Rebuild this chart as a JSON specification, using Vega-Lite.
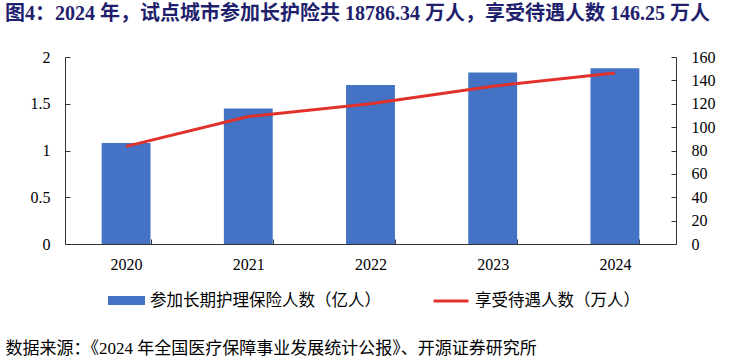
{
  "$schema": "https://vega.github.io/schema/vega-lite/v6.json",
  "width": 611,
  "height": 187,
  "autosize": "none",
  "padding": {"left": 65, "top": 57, "right": 70, "bottom": 117},
  "background": "white",
  "title": {
    "text": "图4：2024 年，试点城市参加长护险共 18786.34 万人，享受待遇人数 146.25 万人",
    "anchor": "start",
    "frame": "group",
    "dx": -60,
    "offset": 25,
    "font": "Liberation Serif, Noto Sans CJK SC",
    "fontSize": 20,
    "fontWeight": "bold",
    "color": "#1F1F6E"
  },
  "config": {
    "view": {"stroke": null},
    "axis": {
      "grid": false,
      "domainColor": "#333333",
      "tickColor": "#333333",
      "labelFont": "Liberation Serif",
      "labelFontSize": 16,
      "labelColor": "#000000",
      "tickSize": -5,
      "labelPadding": 20
    },
    "legend": {
      "labelFont": "Liberation Serif, Noto Sans CJK SC",
      "labelFontSize": 16.5,
      "labelColor": "#000000",
      "labelLimit": 400,
      "padding": 0,
      "labelOffset": 5
    }
  },
  "data": {
    "values": [
      {"year": "2020", "enrolled": 1.08, "beneficiaries": 83.5},
      {"year": "2021", "enrolled": 1.45, "beneficiaries": 109},
      {"year": "2022", "enrolled": 1.7, "beneficiaries": 120},
      {"year": "2023", "enrolled": 1.835, "beneficiaries": 135},
      {"year": "2024", "enrolled": 1.879, "beneficiaries": 146.25}
    ]
  },
  "encoding": {
    "x": {
      "field": "year",
      "type": "ordinal",
      "scale": {"paddingInner": 0.6, "paddingOuter": 0.3},
      "axis": {
        "labelAngle": 0,
        "tickBand": "extent",
        "labelPadding": 17,
        "title": "数据来源：《2024 年全国医疗保障事业发展统计公报》、开源证券研究所",
        "titleX": -60,
        "titleY": 104,
        "titleAlign": "left",
        "titleBaseline": "middle",
        "titleFont": "Liberation Serif, Noto Sans CJK SC",
        "titleFontSize": 17,
        "titleFontWeight": "normal",
        "titleColor": "#000000"
      }
    }
  },
  "layer": [
    {
      "mark": {"type": "bar"},
      "encoding": {
        "y": {
          "field": "enrolled",
          "type": "quantitative",
          "scale": {"domain": [0, 2]},
          "axis": {"orient": "left", "title": null, "values": [0, 0.5, 1, 1.5, 2], "format": ".1~f"}
        },
        "fill": {
          "datum": "参加长期护理保险人数（亿人）",
          "type": "nominal",
          "scale": {"range": ["#4472C4"]},
          "legend": {
            "title": null,
            "orient": "none",
            "legendX": 43,
            "legendY": 225,
            "symbolType": "M-1,-0.243H1V0.243H-1Z",
            "symbolSize": 1369,
            "symbolStrokeWidth": 0
          }
        }
      }
    },
    {
      "mark": {"type": "line", "strokeWidth": 3},
      "encoding": {
        "y": {
          "field": "beneficiaries",
          "type": "quantitative",
          "scale": {"domain": [0, 160]},
          "axis": {"orient": "right", "title": null, "values": [0, 20, 40, 60, 80, 100, 120, 140, 160]}
        },
        "stroke": {
          "datum": "享受待遇人数（万人）",
          "type": "nominal",
          "scale": {"range": ["#E2302A"]},
          "legend": {
            "title": null,
            "orient": "none",
            "legendX": 367,
            "legendY": 225,
            "symbolType": "stroke",
            "symbolSize": 1225,
            "symbolStrokeWidth": 3
          }
        }
      }
    }
  ],
  "resolve": {"scale": {"y": "independent", "fill": "independent", "stroke": "independent"}}
}
